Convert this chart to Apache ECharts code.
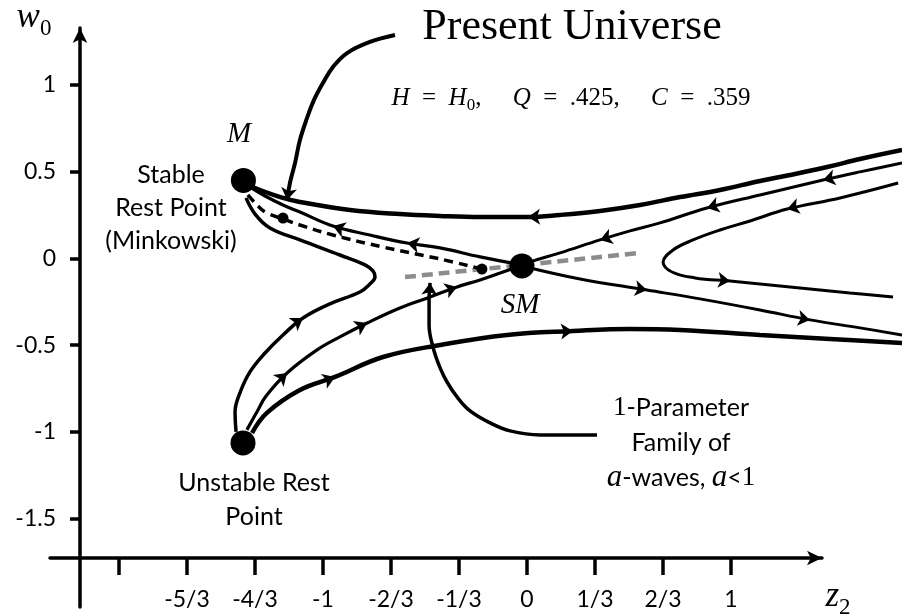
<!DOCTYPE html>
<html>
<head>
<meta charset="utf-8">
<script src="https://cdn.jsdelivr.net/npm/echarts@6/dist/echarts.min.js"></script>
<style>
html, body { margin: 0; padding: 0; background: #fff; }
#chart { width: 902px; height: 615px; }
</style>
</head>
<body>
<div id="chart"></div>
<script>
// axis ticks
var xTickValues = [-2, -5/3, -4/3, -1, -2/3, -1/3, 0, 1/3, 2/3, 1];
var xTickLabels = ['', '-5/3', '-4/3', '-1', '-2/3', '-1/3', '0', '1/3', '2/3', '1'];
var yTickValues = [-1.5, -1, -0.5, 0, 0.5, 1];
var yTickLabels = ['-1.5', '-1', '-0.5', '0', '0.5', '1'];

// rest points: M, SM, unstable
var restPoints = [[-1.39, 0.45], [-0.025, -0.043], [-1.392, -1.063]];
var smallDots = [[-1.196, 0.233], [-0.221, -0.061]];

// trajectories (z2, w0), listed in the flow direction
var upperOuter = [[1.838,0.625],[1.632,0.573],[1.471,0.527],[1.289,0.481],[1.142,0.447],[0.946,0.395],[0.750,0.354],[0.554,0.308],[0.358,0.274],[0.162,0.251],[0.005,0.239],[-0.230,0.239],[-0.426,0.245],[-0.623,0.256],[-0.868,0.280],[-1.113,0.326],[-1.196,0.349],[-1.333,0.406],[-1.377,0.441]];
var upperInflow = [[1.838,0.550],[1.632,0.499],[1.451,0.452],[1.142,0.366],[0.882,0.291],[0.652,0.205],[0.505,0.159],[0.358,0.107],[0.162,0.032],[0.015,-0.020],[-0.025,-0.043]];
var smToM = [[-0.025,-0.037],[-0.230,0.009],[-0.426,0.061],[-0.588,0.089],[-0.770,0.135],[-0.951,0.187],[-1.113,0.268],[-1.196,0.308],[-1.284,0.360],[-1.343,0.401],[-1.377,0.430]];
var rightTurn = [[1.819,0.435],[1.534,0.349],[1.275,0.285],[1.093,0.216],[0.946,0.164],[0.814,0.107],[0.716,0.049],[0.667,-0.020],[0.711,-0.078],[0.824,-0.112],[0.995,-0.130],[1.289,-0.164],[1.583,-0.199],[1.794,-0.222]];
var smOutflow = [[-0.025,-0.043],[0.260,-0.118],[0.588,-0.182],[0.848,-0.233],[1.142,-0.297],[1.387,-0.354],[1.632,-0.400],[1.838,-0.441]];
var lowerOuter = [[-1.348,-1.006],[-1.275,-0.890],[-1.113,-0.758],[-0.941,-0.683],[-0.706,-0.568],[-0.426,-0.499],[-0.098,-0.441],[0.225,-0.418],[0.505,-0.406],[0.750,-0.412],[1.142,-0.441],[1.485,-0.464],[1.838,-0.487]];
var middleInflow = [[-1.373,-0.988],[-1.324,-0.885],[-1.279,-0.793],[-1.176,-0.660],[-1.029,-0.527],[-0.917,-0.452],[-0.784,-0.372],[-0.623,-0.285],[-0.475,-0.222],[-0.343,-0.164],[-0.230,-0.124],[-0.132,-0.084],[-0.034,-0.043]];
var leftLoop = [[-1.426,-1.000],[-1.431,-0.885],[-1.407,-0.775],[-1.358,-0.654],[-1.284,-0.545],[-1.196,-0.441],[-1.098,-0.343],[-0.966,-0.262],[-0.819,-0.193],[-0.770,-0.147],[-0.745,-0.107],[-0.755,-0.072],[-0.794,-0.037],[-0.917,0.020],[-1.113,0.107],[-1.260,0.176],[-1.333,0.256],[-1.377,0.349]];
var dashedPath = [[-1.368,0.366],[-1.319,0.303],[-1.275,0.262],[-1.196,0.228],[-1.113,0.193],[-0.951,0.135],[-0.706,0.066],[-0.426,-0.003],[-0.221,-0.061]];
var grayFamily = [[-0.598,-0.107],[0.554,0.032]];

// annotation pointers
var pointerPresent = [[-0.647,1.288],[-0.770,1.248],[-0.882,1.184],[-0.951,1.104],[-1.000,1.012],[-1.044,0.914],[-1.078,0.810],[-1.113,0.683],[-1.137,0.550],[-1.162,0.435],[-1.176,0.337]];
var pointerFamily = [[0.343,-1.017],[0.064,-1.017],[-0.083,-0.994],[-0.181,-0.948],[-0.279,-0.879],[-0.343,-0.798],[-0.392,-0.712],[-0.426,-0.631],[-0.461,-0.510],[-0.480,-0.383],[-0.480,-0.239],[-0.475,-0.141]];

// where the arrowheads sit: [curve, point index]
var arrowSpecs = [
    [upperOuter, 10],
    [upperInflow, 2], [upperInflow, 4], [upperInflow, 7],
    [smToM, 3], [smToM, 5],
    [rightTurn, 2], [rightTurn, 10],
    [smOutflow, 2], [smOutflow, 5],
    [lowerOuter, 3], [lowerOuter, 7],
    [middleInflow, 3], [middleInflow, 6], [middleInflow, 9],
    [leftLoop, 6],
    [pointerPresent, pointerPresent.length - 1],
    [pointerFamily, pointerFamily.length - 1]
];

var SANS = 'Lato';
var SERIF = 'Liberation Serif';

function arrowData(specs) {
    return specs.map(function (s) {
        var c = s[0], i = s[1];
        var a = c[Math.max(i - 1, 0)], b = c[Math.min(i + 1, c.length - 1)], p = c[i];
        return { coords: [[p[0] - (b[0] - a[0]) * 0.05, p[1] - (b[1] - a[1]) * 0.05], p] };
    });
}

// curves live on the second (wider, hidden) grid so they run past the axis arrow
function curve(data, width, extra) {
    var s = {
        type: 'line', data: data, xAxisIndex: 1, yAxisIndex: 1,
        showSymbol: false, symbol: 'none', smooth: 0.4,
        clip: false, silent: true, z: 2,
        lineStyle: { color: '#000', width: width }
    };
    if (extra) { for (var k in extra) s.lineStyle[k] = extra[k]; }
    return s;
}

function pick(values, labels) {
    return function (v) {
        for (var i = 0; i < values.length; i++) {
            if (Math.abs(values[i] - v) < 1e-6) return labels[i];
        }
        return '';
    };
}

function centered(st) {
    st.fill = '#000';
    st.align = st.textAlign = 'center';
    st.verticalAlign = st.textVerticalAlign = 'middle';
    return st;
}

var myChart = echarts.init(document.getElementById('chart'));
var option = {
    animation: false,
    backgroundColor: '#fff',
    grid: [
        { left: 50, right: 80, top: 28, bottom: 8, containLabel: false, outerBoundsMode: 'none' },
        { left: 50, right: 0, top: 28, bottom: 8, containLabel: false, outerBoundsMode: 'none' }
    ],
    xAxis: [{
        type: 'value', gridIndex: 0, min: -2.338, max: 1.446, position: 'bottom', offset: -49,
        splitLine: { show: false },
        axisLine: { onZero: false, symbol: ['none', 'arrow'], symbolSize: [11, 15], lineStyle: { color: '#000', width: 3.5 } },
        axisTick: { customValues: xTickValues, length: 17, lineStyle: { color: '#000', width: 3.5 } },
        axisLabel: { customValues: xTickValues, formatter: pick(xTickValues, xTickLabels), margin: 30, color: '#000', fontSize: 23, fontFamily: SANS }
    }, {
        type: 'value', gridIndex: 1, min: -2.338, max: 1.838, show: false
    }],
    yAxis: [{
        type: 'value', gridIndex: 0, min: -2.009, max: 1.3285, position: 'left', offset: -30,
        splitLine: { show: false },
        axisLine: { onZero: false, symbol: ['none', 'arrow'], symbolSize: [11, 15], lineStyle: { color: '#000', width: 3.5 } },
        axisTick: { customValues: yTickValues, length: 10, lineStyle: { color: '#000', width: 3.5 } },
        axisLabel: { customValues: yTickValues, formatter: pick(yTickValues, yTickLabels), margin: 24, color: '#000', fontSize: 23, fontFamily: SANS }
    }, {
        type: 'value', gridIndex: 1, min: -2.009, max: 1.3285, show: false
    }],
    series: [
        curve(grayFamily, 4.5, { color: '#8c8c8c', type: [11, 6] }),
        curve(dashedPath, 3.5, { type: [9, 6] }),
        curve(upperOuter, 4.5),
        curve(upperInflow, 3),
        curve(smToM, 3.2),
        curve(rightTurn, 3),
        curve(smOutflow, 3),
        curve(lowerOuter, 4.5),
        curve(middleInflow, 3.2),
        curve(leftLoop, 3.5),
        curve(pointerPresent, 4),
        curve(pointerFamily, 3.5),
        {
            type: 'lines', coordinateSystem: 'cartesian2d', xAxisIndex: 1, yAxisIndex: 1,
            data: arrowData(arrowSpecs),
            symbol: ['none', 'arrow'], symbolSize: 12, clip: false, silent: true, z: 4,
            lineStyle: { color: '#000', width: 2, opacity: 1, curveness: 0 }
        },
        {
            type: 'scatter', xAxisIndex: 1, yAxisIndex: 1, data: restPoints, symbolSize: 25, silent: true, z: 5,
            itemStyle: { color: '#000', opacity: 1 }
        },
        {
            type: 'scatter', xAxisIndex: 1, yAxisIndex: 1, data: smallDots, symbolSize: 11, silent: true, z: 5,
            itemStyle: { color: '#000', opacity: 1 }
        }
    ],
    graphic: [
        { type: 'text', x: 572, y: 27, style: centered({ text: 'Present Universe', font: '44px "Liberation Serif"' }) },
        { type: 'text', x: 571, y: 98, style: centered({
            text: '{i|H}  =  {i|H}{s|0},     {i|Q}  =  .425,     {i|C}  =  .359',
            fontSize: 25, fontFamily: SERIF, lineHeight: 32,
            rich: {
                i: { fontSize: 25, fontFamily: SERIF, fontStyle: 'italic', lineHeight: 32 },
                s: { fontSize: 17, fontFamily: SERIF, verticalAlign: 'bottom', lineHeight: 32 }
            }
        }) },
        { type: 'text', x: 239, y: 134, style: centered({ text: 'M', font: 'italic 29px "Liberation Serif"' }) },
        { type: 'text', x: 520, y: 305, style: centered({ text: 'SM', font: 'italic 29px "Liberation Serif"' }) },
        { type: 'text', x: 34, y: 18, style: centered({
            text: '{v|w}{s|0}',
            rich: {
                v: { fontSize: 35, fontFamily: SERIF, fontStyle: 'italic', lineHeight: 44 },
                s: { fontSize: 23, fontFamily: SERIF, verticalAlign: 'bottom', lineHeight: 44 }
            }
        }) },
        { type: 'text', x: 838, y: 597, style: centered({
            text: '{v|z}{s|2}',
            rich: {
                v: { fontSize: 35, fontFamily: SERIF, fontStyle: 'italic', lineHeight: 44 },
                s: { fontSize: 23, fontFamily: SERIF, verticalAlign: 'bottom', lineHeight: 44 }
            }
        }) },
        { type: 'text', x: 171, y: 208, style: centered({ text: 'Stable\nRest Point\n(Minkowski)', font: '25px Lato', lineHeight: 33 }) },
        { type: 'text', x: 254, y: 500, style: centered({ text: 'Unstable Rest\nPoint', font: '25px Lato', lineHeight: 34 }) },
        { type: 'text', x: 681, y: 443, style: centered({
            text: '{n|1}-Parameter\nFamily of\n{a|a}-waves, {a|a}<{n|1}',
            fontSize: 25, fontFamily: SANS, lineHeight: 35,
            rich: {
                n: { fontSize: 27, fontFamily: SERIF, lineHeight: 35 },
                a: { fontSize: 31, fontFamily: SERIF, fontStyle: 'italic', lineHeight: 35 }
            }
        }) }
    ]
};
myChart.setOption(option);
</script>
</body>
</html>
